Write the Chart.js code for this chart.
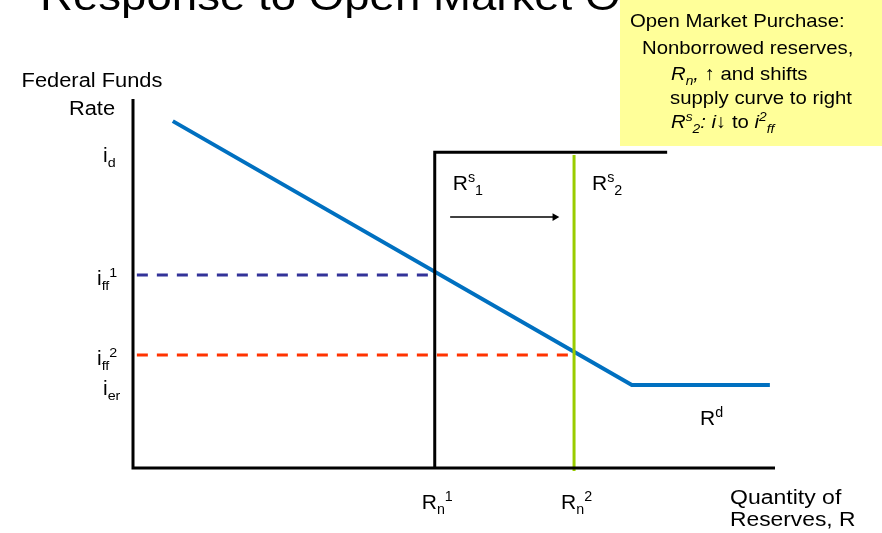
<!DOCTYPE html>
<html>
<head>
<meta charset="utf-8">
<title>Response to Open Market Operation</title>
<script src="https://cdn.jsdelivr.net/npm/chart.js@4.4.1/dist/chart.umd.min.js"></script>
<style>
  html, body { margin: 0; padding: 0; background: #fff; }
  #chart-wrap { width: 882px; height: 533px; }
</style>
</head>
<body>
<div id="chart-wrap"><canvas id="reservesChart" width="882" height="533"></canvas></div>
<script>
// values (x: quantity of reserves 0-100, y: federal funds rate 0-100)
const demandQ = [6.2, 77.7, 99.2];
const demandRate = [94.0, 22.5, 22.5];
const supplyQ = [47.0, 68.7];          // R_n^1, R_n^2
const supplyTopRate = [85.6, 84.8];    // top of R^s_1 (at i_d) and of R^s_2
const supplyBottomRate = [0, -0.8];
const supplyCapEnd = 83.2;             // flat part of R^s_1 runs to here
const rateValues = [85.6, 52.3, 30.6, 22.5];
const rateLabels = ['i_{d}', 'i_{ff}^{1}', 'i_{ff}^{2}', 'i_{er}'];
const quantityLabels = ['R_{n}^{1}', 'R_{n}^{2}'];
const supplyLabels = ['R^{s}_{1}', 'R^{s}_{2}'];
const shiftArrowQ = [49.4, 65.7];
const shiftArrowRate = 68.0;
const noteLines = [
    'Open Market Purchase:',
    'Nonborrowed reserves,',
    '*R_{n},* \u2191 and shifts',
    'supply curve to right',
    '*R^{s}_{2}:* *i*\u2193 to *i^{2}_{ff}*'
];

const FONT = "'Liberation Sans', Arial, sans-serif";

// split "R_{n}^{1}" style strings into pieces, '*' toggles italic
function parseRich(str) {
    const segs = [];
    let italic = false, buf = '', i = 0;
    const flush = () => { if (buf) { segs.push({ text: buf, mode: 'base', italic }); buf = ''; } };
    while (i < str.length) {
        const c = str[i];
        if (c === '*') { flush(); italic = !italic; i++; }
        else if ((c === '_' || c === '^') && str[i + 1] === '{') {
            flush();
            const end = str.indexOf('}', i);
            segs.push({ text: str.slice(i + 2, end), mode: c === '_' ? 'sub' : 'sup', italic });
            i = end + 1;
        } else { buf += c; i++; }
    }
    flush();
    return segs;
}

function drawRich(ctx, str, x, y, opts) {
    const size = opts.size || 19;
    const sx = opts.sx || 1;
    const segs = parseRich(str);
    const fontFor = s => {
        const sz = s.mode === 'base' ? size : size * 0.68;
        return (s.italic ? 'italic ' : '') + sz + 'px ' + FONT;
    };
    let width = 0;
    segs.forEach(s => { ctx.font = fontFor(s); s.w = ctx.measureText(s.text).width; width += s.w; });
    if (opts.align === 'center') x -= width * sx / 2;
    if (opts.align === 'right') x -= width * sx;

    ctx.save();
    ctx.translate(x, y);
    ctx.scale(sx, 1);
    ctx.fillStyle = opts.color || '#000';
    ctx.textBaseline = 'alphabetic';
    ctx.textAlign = 'left';
    let cx = 0;
    segs.forEach(s => {
        ctx.font = fontFor(s);
        let dy = 0;
        if (s.mode === 'sub') dy = size * 0.25;
        if (s.mode === 'sup') dy = -size * 0.38;
        ctx.fillText(s.text, cx, dy);
        cx += s.w;
    });
    ctx.restore();
}

function toPoints(xs, ys) {
    return xs.map((x, i) => ({ x: x, y: ys[i] }));
}

const diagramText = {
    id: 'diagramText',
    afterDraw(chart) {
        const ctx = chart.ctx;
        const xScale = chart.scales.x;
        const yScale = chart.scales.y;

        // slide title, mostly cut off at the top
        drawRich(ctx, 'Response to Open Market Operation', 40, 10, { size: 40, sx: 1.14 });

        // axis titles
        drawRich(ctx, 'Federal Funds', 92, 87, { size: 19.5, sx: 1.12, align: 'center' });
        drawRich(ctx, 'Rate', 92, 115, { size: 19.5, sx: 1.12, align: 'center' });
        drawRich(ctx, 'Quantity of', 730, 504, { size: 19.5, sx: 1.18 });
        drawRich(ctx, 'Reserves, R', 730, 526, { size: 19.5, sx: 1.17 });

        // rate labels on the vertical axis
        const rateLeft = [103, 97, 97, 103];
        rateValues.forEach((v, i) => {
            drawRich(ctx, rateLabels[i], rateLeft[i], yScale.getPixelForValue(v) + 10, { size: 20, sx: 1.05 });
        });

        // quantity labels under the axis, supply labels beside the curves
        supplyQ.forEach((q, i) => {
            const px = xScale.getPixelForValue(q);
            drawRich(ctx, quantityLabels[i], px - 13, 509, { size: 21 });
            drawRich(ctx, supplyLabels[i], px + 18, 190, { size: 21 });
        });
        drawRich(ctx, 'R^{d}', 700, 425, { size: 21 });

        // note box
        ctx.fillStyle = '#FFFF99';
        ctx.fillRect(620, 0, 262, 146);
        const noteLeft = [630, 642, 671, 670, 671];
        const noteBase = [27, 54, 80, 104, 128];
        noteLines.forEach((line, i) => {
            drawRich(ctx, line, noteLeft[i], noteBase[i], { size: 19, sx: 1.07 });
        });
    }
};

document.addEventListener('DOMContentLoaded', function () {
    const lineSet = (points, color, width, extra) => Object.assign({
        data: points,
        showLine: true,
        borderColor: color,
        backgroundColor: color,
        borderWidth: width,
        pointRadius: 0,
        tension: 0,
        fill: false,
        clip: false
    }, extra || {});

    // first dataset is drawn on top
    const datasets = [
        lineSet(toPoints([0, 0, 100], [100, 0, 0]), '#000000', 3, { borderJoinStyle: 'miter' }),
        lineSet(toPoints([supplyQ[0], supplyQ[0], supplyCapEnd],
                         [supplyBottomRate[0], supplyTopRate[0], supplyTopRate[0]]), '#000000', 3,
                { borderJoinStyle: 'miter' }),
        lineSet(toPoints([supplyQ[1], supplyQ[1]], [supplyBottomRate[1], supplyTopRate[1]]), '#99CC00', 3),
        lineSet(toPoints(demandQ, demandRate), '#0070C0', 4),
        lineSet(toPoints(shiftArrowQ, [shiftArrowRate, shiftArrowRate]), '#000000', 1.5, {
            pointRadius: [0, 4.5],
            pointStyle: 'triangle',
            rotation: 90,
            pointBorderWidth: 0
        }),
        lineSet(toPoints([0.6, supplyQ[0]], [rateValues[1], rateValues[1]]), '#333399', 3, { borderDash: [11, 9] }),
        lineSet(toPoints([0.6, supplyQ[1]], [rateValues[2], rateValues[2]]), '#FF3300', 3, { borderDash: [11, 9] })
    ];

    new Chart(document.getElementById('reservesChart'), {
        type: 'scatter',
        data: { datasets: datasets },
        options: {
            responsive: false,
            animation: false,
            events: [],
            layout: { padding: { left: 133, right: 107, top: 99, bottom: 65 } },
            scales: {
                x: { type: 'linear', min: 0, max: 100, display: false },
                y: { type: 'linear', min: 0, max: 100, display: false }
            },
            plugins: { legend: { display: false }, tooltip: { enabled: false } }
        },
        plugins: [diagramText]
    });
    console.log('Reserves diagram drawn.');
});
</script>
</body>
</html>
